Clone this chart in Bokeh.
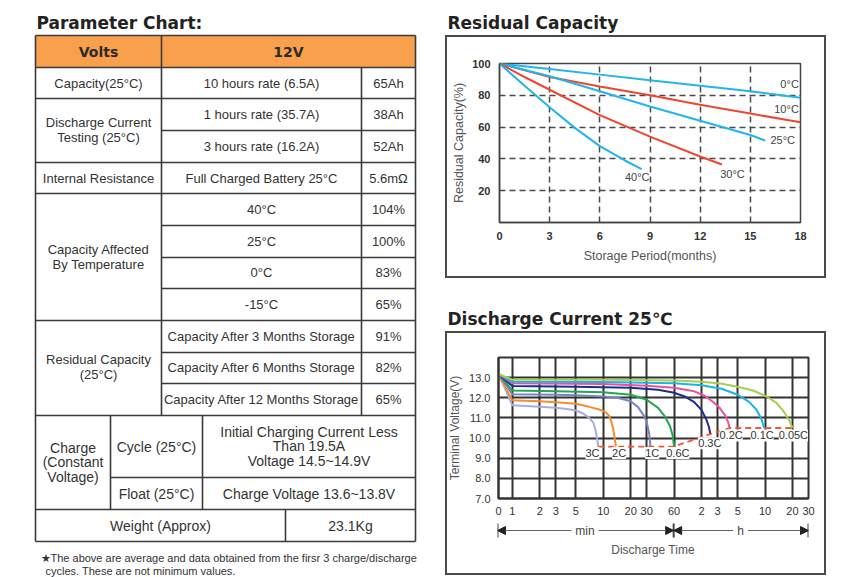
import math
from bokeh.plotting import figure
from bokeh.models import (Range1d, FixedTicker, ColumnDataSource, LabelSet, Label,
                          Arrow, NormalHead, PrintfTickFormatter)
from bokeh.layouts import row, column
from bokeh.embed import file_html
from bokeh.resources import INLINE
from bokeh.core.properties import value

# ---------------- Parameter table data ----------------
table_title = "Parameter Chart:"
header_labels = ["Volts", "12V"]
capacity_label = "Capacity(25°C)"
capacity_rate = "10 hours rate (6.5A)"
capacity_value = "65Ah"
discharge_label = ["Discharge Current", "Testing (25°C)"]
discharge_rates = ["1 hours rate (35.7A)", "3 hours rate (16.2A)"]
discharge_values = ["38Ah", "52Ah"]
resistance_label = "Internal Resistance"
resistance_cond = "Full Charged Battery 25°C"
resistance_value = "5.6mΩ"
temp_label = ["Capacity Affected", "By Temperature"]
temperatures = ["40°C", "25°C", "0°C", "-15°C"]
temp_values = ["104%", "100%", "83%", "65%"]
residual_label = ["Residual Capacity", "(25°C)"]
storage_items = ["Capacity After 3 Months Storage", "Capacity After 6 Months Storage",
                 "Capacity After 12 Months Storage"]
storage_values = ["91%", "82%", "65%"]
charge_label = ["Charge", "(Constant", "Voltage)"]
charge_modes = ["Cycle (25°C)", "Float (25°C)"]
cycle_text = ["Initial Charging Current Less", "Than 19.5A", "Voltage 14.5~14.9V"]
float_text = "Charge Voltage 13.6~13.8V"
weight_label = "Weight (Approx)"
weight_value = "23.1Kg"
footnote = ["★The above are average and data obtained from the firsr 3 charge/discharge",
            "cycles. These are not minimum values."]

# ---------------- Residual capacity data ----------------
rc_title = "Residual Capacity"
rc_x_ticks = [0, 3, 6, 9, 12, 15, 18]
rc_y_ticks = [20, 40, 60, 80, 100]
rc_names = ["0°C", "10°C", "25°C", "30°C", "40°C"]
rc_months_0 = [0, 3, 6, 9, 12, 15, 18]
rc_cap_0 = [100, 96.5, 93, 89.5, 86, 82.5, 78.5]
rc_months_10 = [0, 3, 6, 9, 12, 15, 18]
rc_cap_10 = [100, 91.5, 85.5, 80, 74, 68.5, 63]
rc_months_25 = [0, 3, 6, 9, 12, 15, 15.9]
rc_cap_25 = [100, 92, 82.5, 73, 64, 55, 51.5]
rc_months_30 = [0, 1.5, 3, 6, 9, 12, 13.3]
rc_cap_30 = [100, 91.5, 83.5, 67.5, 54, 41.5, 36.5]
rc_months_40 = [0, 1.5, 3, 4.5, 6, 7.5, 8.5]
rc_cap_40 = [100, 86, 72.5, 59.5, 48, 39, 33.5]

# ---------------- Discharge current data ----------------
dc_title = "Discharge Current 25℃"
dc_x_ticks = [0.705, 1, 2, 3, 5, 10, 20, 30, 60, 120, 180, 300, 600, 1200, 1800]  # minutes
dc_x_labels = ["0", "1", "2", "3", "5", "10", "20", "30", "60", "2", "3", "5", "10", "20", "30"]
dc_y_ticks = [7, 8, 9, 10, 11, 12, 13]
T0 = dc_x_ticks[0]
dc_names = ["3C", "2C", "1C", "0.6C", "0.3C", "0.2C", "0.1C", "0.05C"]
t_3c = [T0, 1, 2, 3, 4, 5, 6, 7, 7.8, 8.3, 8.6, 8.8]
v_3c = [13.18, 11.63, 11.55, 11.5, 11.44, 11.37, 11.22, 11.0, 10.75, 10.3, 9.9, 9.58]
t_2c = [T0, 1, 2, 3, 5, 7, 9, 10.5, 11.5, 12.2, 12.8, 13.3, 13.8]
v_2c = [13.18, 11.88, 11.83, 11.78, 11.7, 11.55, 11.42, 11.3, 11.12, 10.85, 10.5, 10.0, 9.58]
t_1c = [T0, 1, 3, 5, 10, 15, 20, 24, 28, 30, 32, 33]
v_1c = [13.18, 12.18, 12.15, 12.12, 12.07, 11.98, 11.83, 11.55, 11.1, 10.8, 10.2, 9.58]
t_06c = [T0, 1, 3, 10, 20, 30, 40, 48, 54, 58, 60]
v_06c = [13.18, 12.36, 12.33, 12.28, 12.15, 11.9, 11.5, 11.05, 10.6, 10.1, 9.58]
t_03c = [T0, 1, 5, 20, 40, 60, 80, 100, 120, 135, 145, 150]
v_03c = [13.18, 12.58, 12.55, 12.5, 12.4, 12.25, 12.05, 11.78, 11.4, 10.95, 10.55, 10.2]
t_02c = [T0, 1, 10, 30, 60, 100, 130, 160, 190, 220, 235, 245]
v_02c = [13.18, 12.72, 12.68, 12.6, 12.5, 12.32, 12.1, 11.8, 11.5, 11.1, 10.8, 10.5]
t_01c = [T0, 1, 10, 60, 120, 200, 300, 400, 480, 540, 570, 585]
v_01c = [13.18, 12.8, 12.78, 12.72, 12.62, 12.45, 12.15, 11.8, 11.42, 11.0, 10.7, 10.5]
t_005c = [T0, 1, 10, 60, 120, 200, 300, 450, 600, 800, 950, 1100, 1200]
v_005c = [13.18, 12.9, 12.9, 12.86, 12.8, 12.7, 12.55, 12.35, 12.1, 11.75, 11.35, 10.9, 10.5]
t_end = [8.8, 60, 150, 245, 1200]
v_end = [9.58, 9.58, 10.2, 10.5, 10.5]
label_t = [7.6, 14.9, 34.5, 66, 148, 254, 556, 1228]
label_v = [9.26, 9.26, 9.26, 9.26, 9.74, 10.13, 10.13, 10.13]
span_names = ["min", "h"]
span_edges = [T0, 60, 1800]
span_label_t = [6.4, 324]

# ---------------- styles ----------------
FONT = value("Liberation Sans")
BOLD_FONT = value("DejaVu Sans")
TXT = "#333333"
LINE = "#3a3a3a"
ORANGE = "#F8A04B"
CYAN = "#22B4EA"
RED = "#EF4630"
dc_colors = ["#A7AEDD", "#F58C30", "#7A84C4", "#22A651", "#1F2E8A", "#EE509B", "#1CB3E9", "#A6CF52"]
BOX_BG = {
    "background-image": ", ".join(["linear-gradient(#4a4a4a, #4a4a4a)"] * 4),
    "background-size": "100% 2px, 100% 2px, 2px 100%, 2px 100%",
    "background-position": "0 0, 0 100%, 0 0, 100% 0",
    "background-repeat": "no-repeat",
}


def canvas(width, height, xr, yr):
    f = figure(width=width, height=height, x_range=Range1d(*xr), y_range=Range1d(*yr),
               output_backend="svg", toolbar_location=None, min_border=0,
               x_axis_location=None, y_axis_location=None, frame_align=False)
    f.outline_line_color = None
    f.grid.grid_line_color = None
    return f


def put(fig, xs, ys, texts, size="13px", font=FONT, style="normal", align="center", color=TXT):
    fig.text(x=xs, y=ys, text=texts, text_font=font, text_font_size=value(size),
             text_font_style=style, text_align=align, text_baseline="middle", text_color=color)


# =============== Left: parameter table ===============
L = canvas(440, 577, (0, 440), (577, 0))

XL, XC1, X1, XC2, XW, X2, XR = 35, 110, 161, 202, 285, 361, 415
Y = [35, 67, 98, 130, 162, 193, 225, 257, 288, 320, 352, 383, 415, 477, 509, 541]

L.quad(left=[XL], right=[XR], top=[Y[0]], bottom=[Y[1]], fill_color=ORANGE, line_color=None)

hx0, hx1, hy = [], [], []
for y in [Y[0], Y[1], Y[2], Y[4], Y[5], Y[9], Y[12], Y[14], Y[15]]:
    hx0.append(XL); hx1.append(XR); hy.append(y)
for y in [Y[3], Y[6], Y[7], Y[8], Y[10], Y[11]]:
    hx0.append(X1); hx1.append(XR); hy.append(y)
hx0.append(XC1); hx1.append(XR); hy.append(Y[13])
L.segment(x0=hx0, y0=hy, x1=hx1, y1=hy, line_color=LINE, line_width=1.6)
vx, vy0, vy1 = [], [], []
for x, a, b in [(XL, Y[0], Y[15]), (XR, Y[0], Y[15]), (X1, Y[0], Y[12]), (X2, Y[1], Y[12]),
                (XC1, Y[12], Y[14]), (XC2, Y[12], Y[14]), (XW, Y[14], Y[15])]:
    vx.append(x); vy0.append(a); vy1.append(b)
L.segment(x0=vx, y0=vy0, x1=vx, y1=vy1, line_color=LINE, line_width=1.6)

put(L, [36], [22], [table_title], size="17px", font=BOLD_FONT, style="bold", align="left", color="#222")
put(L, [98, 288], [51, 51], header_labels, size="14px", font=BOLD_FONT, style="bold", color="#2a2a2a")

c1x = (XL + X1) / 2
c2x = (X1 + X2) / 2
c3x = (X2 + XR) / 2
put(L, [c1x] * 8, [83, 122, 137, 178, 249, 264, 359, 374],
    [capacity_label] + discharge_label + [resistance_label] + temp_label + residual_label)
put(L, [c2x] * 11, [83, 114, 146, 178, 209, 241, 272, 304, 336, 367, 399],
    [capacity_rate] + discharge_rates + [resistance_cond] + temperatures + storage_items)
put(L, [c3x] * 11, [83, 114, 146, 178, 209, 241, 272, 304, 336, 367, 399],
    [capacity_value] + discharge_values + [resistance_value] + temp_values + storage_values)
put(L, [(XL + XC1) / 2] * 3, [447, 461, 476], charge_label, size="14px")
put(L, [(XC1 + XC2) / 2] * 2, [446, 493], charge_modes, size="14px")
put(L, [(XC2 + XR) / 2] * 4, [431, 445, 460, 493], cycle_text + [float_text], size="14px")
put(L, [(XL + XW) / 2, (XW + XR) / 2], [525, 525], [weight_label, weight_value], size="14px")
put(L, [40, 45], [557, 570], footnote, size="11px", align="left")

# =============== Right: chart titles ===============
T1 = canvas(412, 35, (440, 852), (35, 0))
put(T1, [447], [22], [rc_title], size="17px", font=BOLD_FONT, style="bold", align="left", color="#222")
T2 = canvas(412, 53, (440, 852), (331, 278))
put(T2, [447], [318], [dc_title], size="17px", font=BOLD_FONT, style="bold", align="left", color="#222")

# =============== Residual capacity chart ===============
C1 = figure(width=381, height=243, x_range=Range1d(0, 18), y_range=Range1d(0, 100),
            output_backend="svg", toolbar_location=None, frame_align=False,
            min_border_left=54, min_border_right=26, min_border_top=28, min_border_bottom=56,
            margin=(0, 0, 0, 5))
C1.styles = BOX_BG
C1.border_fill_color = None
C1.outline_line_color = "#444"
C1.outline_line_width = 1.5
C1.xaxis.ticker = FixedTicker(ticks=rc_x_ticks)
C1.yaxis.ticker = FixedTicker(ticks=rc_y_ticks)
C1.xgrid.ticker = FixedTicker(ticks=rc_x_ticks[1:-1])
C1.ygrid.ticker = FixedTicker(ticks=rc_y_ticks[:-1])
for g in (C1.xgrid[0], C1.ygrid[0]):
    g.grid_line_color = "#4a4a4a"
    g.grid_line_dash = "6 4"
    g.grid_line_width = 1.5
for ax in (C1.xaxis[0], C1.yaxis[0]):
    ax.axis_line_color = "#444"
    ax.axis_line_width = 1.5
    ax.major_tick_line_color = None
    ax.minor_tick_line_color = None
    ax.major_label_text_font = "Liberation Sans"
    ax.major_label_text_font_style = "bold"
    ax.major_label_text_font_size = "11px"
    ax.major_label_text_color = "#333"
    ax.major_label_standoff = 3
    ax.axis_label_text_font = "Liberation Sans"
    ax.axis_label_text_font_style = "normal"
    ax.axis_label_text_font_size = "12.5px"
    ax.axis_label_text_color = "#555"
C1.yaxis.axis_label = "Residual Capacity(%)"
C1.xaxis.axis_label = "Storage Period(months)"
C1.yaxis.axis_label_standoff = 3
C1.xaxis.axis_label_standoff = 6

rc_series = [(rc_months_0, rc_cap_0, CYAN), (rc_months_10, rc_cap_10, RED),
             (rc_months_25, rc_cap_25, CYAN), (rc_months_30, rc_cap_30, RED),
             (rc_months_40, rc_cap_40, CYAN)]
for xs, ys, col in rc_series:
    C1.line(xs, ys, line_color=col, line_width=2)
put(C1, [17.9, 17.9], [87.4, 71.6], rc_names[:2], size="11px", align="right", color="#444")
put(C1, [16.2, 13.2, 7.5], [51.7, 30.3, 28.6], rc_names[2:], size="11px", align="left", color="#444")

# =============== Discharge chart ===============
C2 = figure(width=381, height=186, x_axis_type="log", x_range=Range1d(T0, 1800),
            y_range=Range1d(7, 14), output_backend="svg", toolbar_location=None, frame_align=False,
            min_border_left=52, min_border_right=18, min_border_top=26, min_border_bottom=15)
C2.border_fill_color = None
C2.outline_line_color = "#333"
C2.outline_line_width = 2
C2.xaxis.ticker = FixedTicker(ticks=dc_x_ticks)
C2.xgrid.ticker = FixedTicker(ticks=dc_x_ticks)
C2.yaxis.ticker = FixedTicker(ticks=dc_y_ticks)
C2.ygrid.ticker = FixedTicker(ticks=dc_y_ticks)
C2.xaxis.major_label_overrides = {t: s for t, s in zip(dc_x_ticks, dc_x_labels)}
C2.yaxis.formatter = PrintfTickFormatter(format="%.1f")
for g in (C2.xgrid[0], C2.ygrid[0]):
    g.grid_line_color = "#333"
    g.grid_line_width = 2
for ax in (C2.xaxis[0], C2.yaxis[0]):
    ax.axis_line_color = "#333"
    ax.axis_line_width = 2
    ax.major_tick_line_color = None
    ax.minor_tick_line_color = None
    ax.major_label_text_font = "Liberation Sans"
    ax.major_label_text_font_size = "11px"
    ax.major_label_text_color = "#333"
    ax.major_label_standoff = 2
    ax.axis_label_text_font = "Liberation Sans"
    ax.axis_label_text_font_style = "normal"
    ax.axis_label_text_font_size = "12px"
    ax.axis_label_text_color = "#555"
C2.yaxis.axis_label = "Terminal Voltage(V)"
C2.yaxis.axis_label_standoff = 4

dc_series = [(t_3c, v_3c), (t_2c, v_2c), (t_1c, v_1c), (t_06c, v_06c), (t_03c, v_03c),
             (t_02c, v_02c), (t_01c, v_01c), (t_005c, v_005c)]
for (ts, vs), col in zip(dc_series, dc_colors):
    C2.line(ts, vs, line_color=col, line_width=2)
C2.line(t_end, v_end, line_color="#F0583A", line_width=1.8, line_dash="6 4")

lab_src = ColumnDataSource(dict(x=label_t, y=label_v, text=dc_names))
C2.add_layout(LabelSet(x="x", y="y", text="text", source=lab_src, text_align="center",
                       text_baseline="middle", text_font_size=value("11px"),
                       text_font=value("Liberation Sans"),
                       text_color="#333", background_fill_color="white"))

# strip under the discharge chart: min / h arrows and axis title (shares the time scale)
A2 = figure(width=381, height=58, x_axis_type="log", x_range=C2.x_range, y_range=Range1d(575, 517),
            output_backend="svg", toolbar_location=None, frame_align=False,
            min_border_left=52, min_border_right=18, min_border_top=0, min_border_bottom=0,
            x_axis_location=None, y_axis_location=None)
A2.border_fill_color = None
A2.background_fill_color = None
A2.outline_line_color = None
A2.grid.grid_line_color = None
AY = 530
for xs, xe in zip(span_edges[:-1], span_edges[1:]):
    A2.add_layout(Arrow(start=NormalHead(size=8, fill_color="#222", line_color="#222"),
                        end=NormalHead(size=8, fill_color="#222", line_color="#222"),
                        x_start=xs, y_start=AY, x_end=xe, y_end=AY,
                        line_color="#666", line_width=1))
A2.segment(x0=span_edges, y0=[523] * 3, x1=span_edges, y1=[537] * 3, line_color="#444", line_width=2)
for xt, s in zip(span_label_t, span_names):
    A2.add_layout(Label(x=xt, y=AY, text=s, text_align="center", text_baseline="middle",
                        text_font_size="12px", text_font="Liberation Sans", text_color="#444",
                        background_fill_color="white", padding=4))
put(A2, [math.sqrt(T0 * 1800)], [549], ["Discharge Time"], size="12px", color="#555")

G2 = column(C2, A2, spacing=0, margin=(0, 0, 0, 5), styles=BOX_BG)

right = column(T1, C1, T2, G2, spacing=0)
page = row(L, right, spacing=0)

open("out.html", "w").write(file_html(page, INLINE))
